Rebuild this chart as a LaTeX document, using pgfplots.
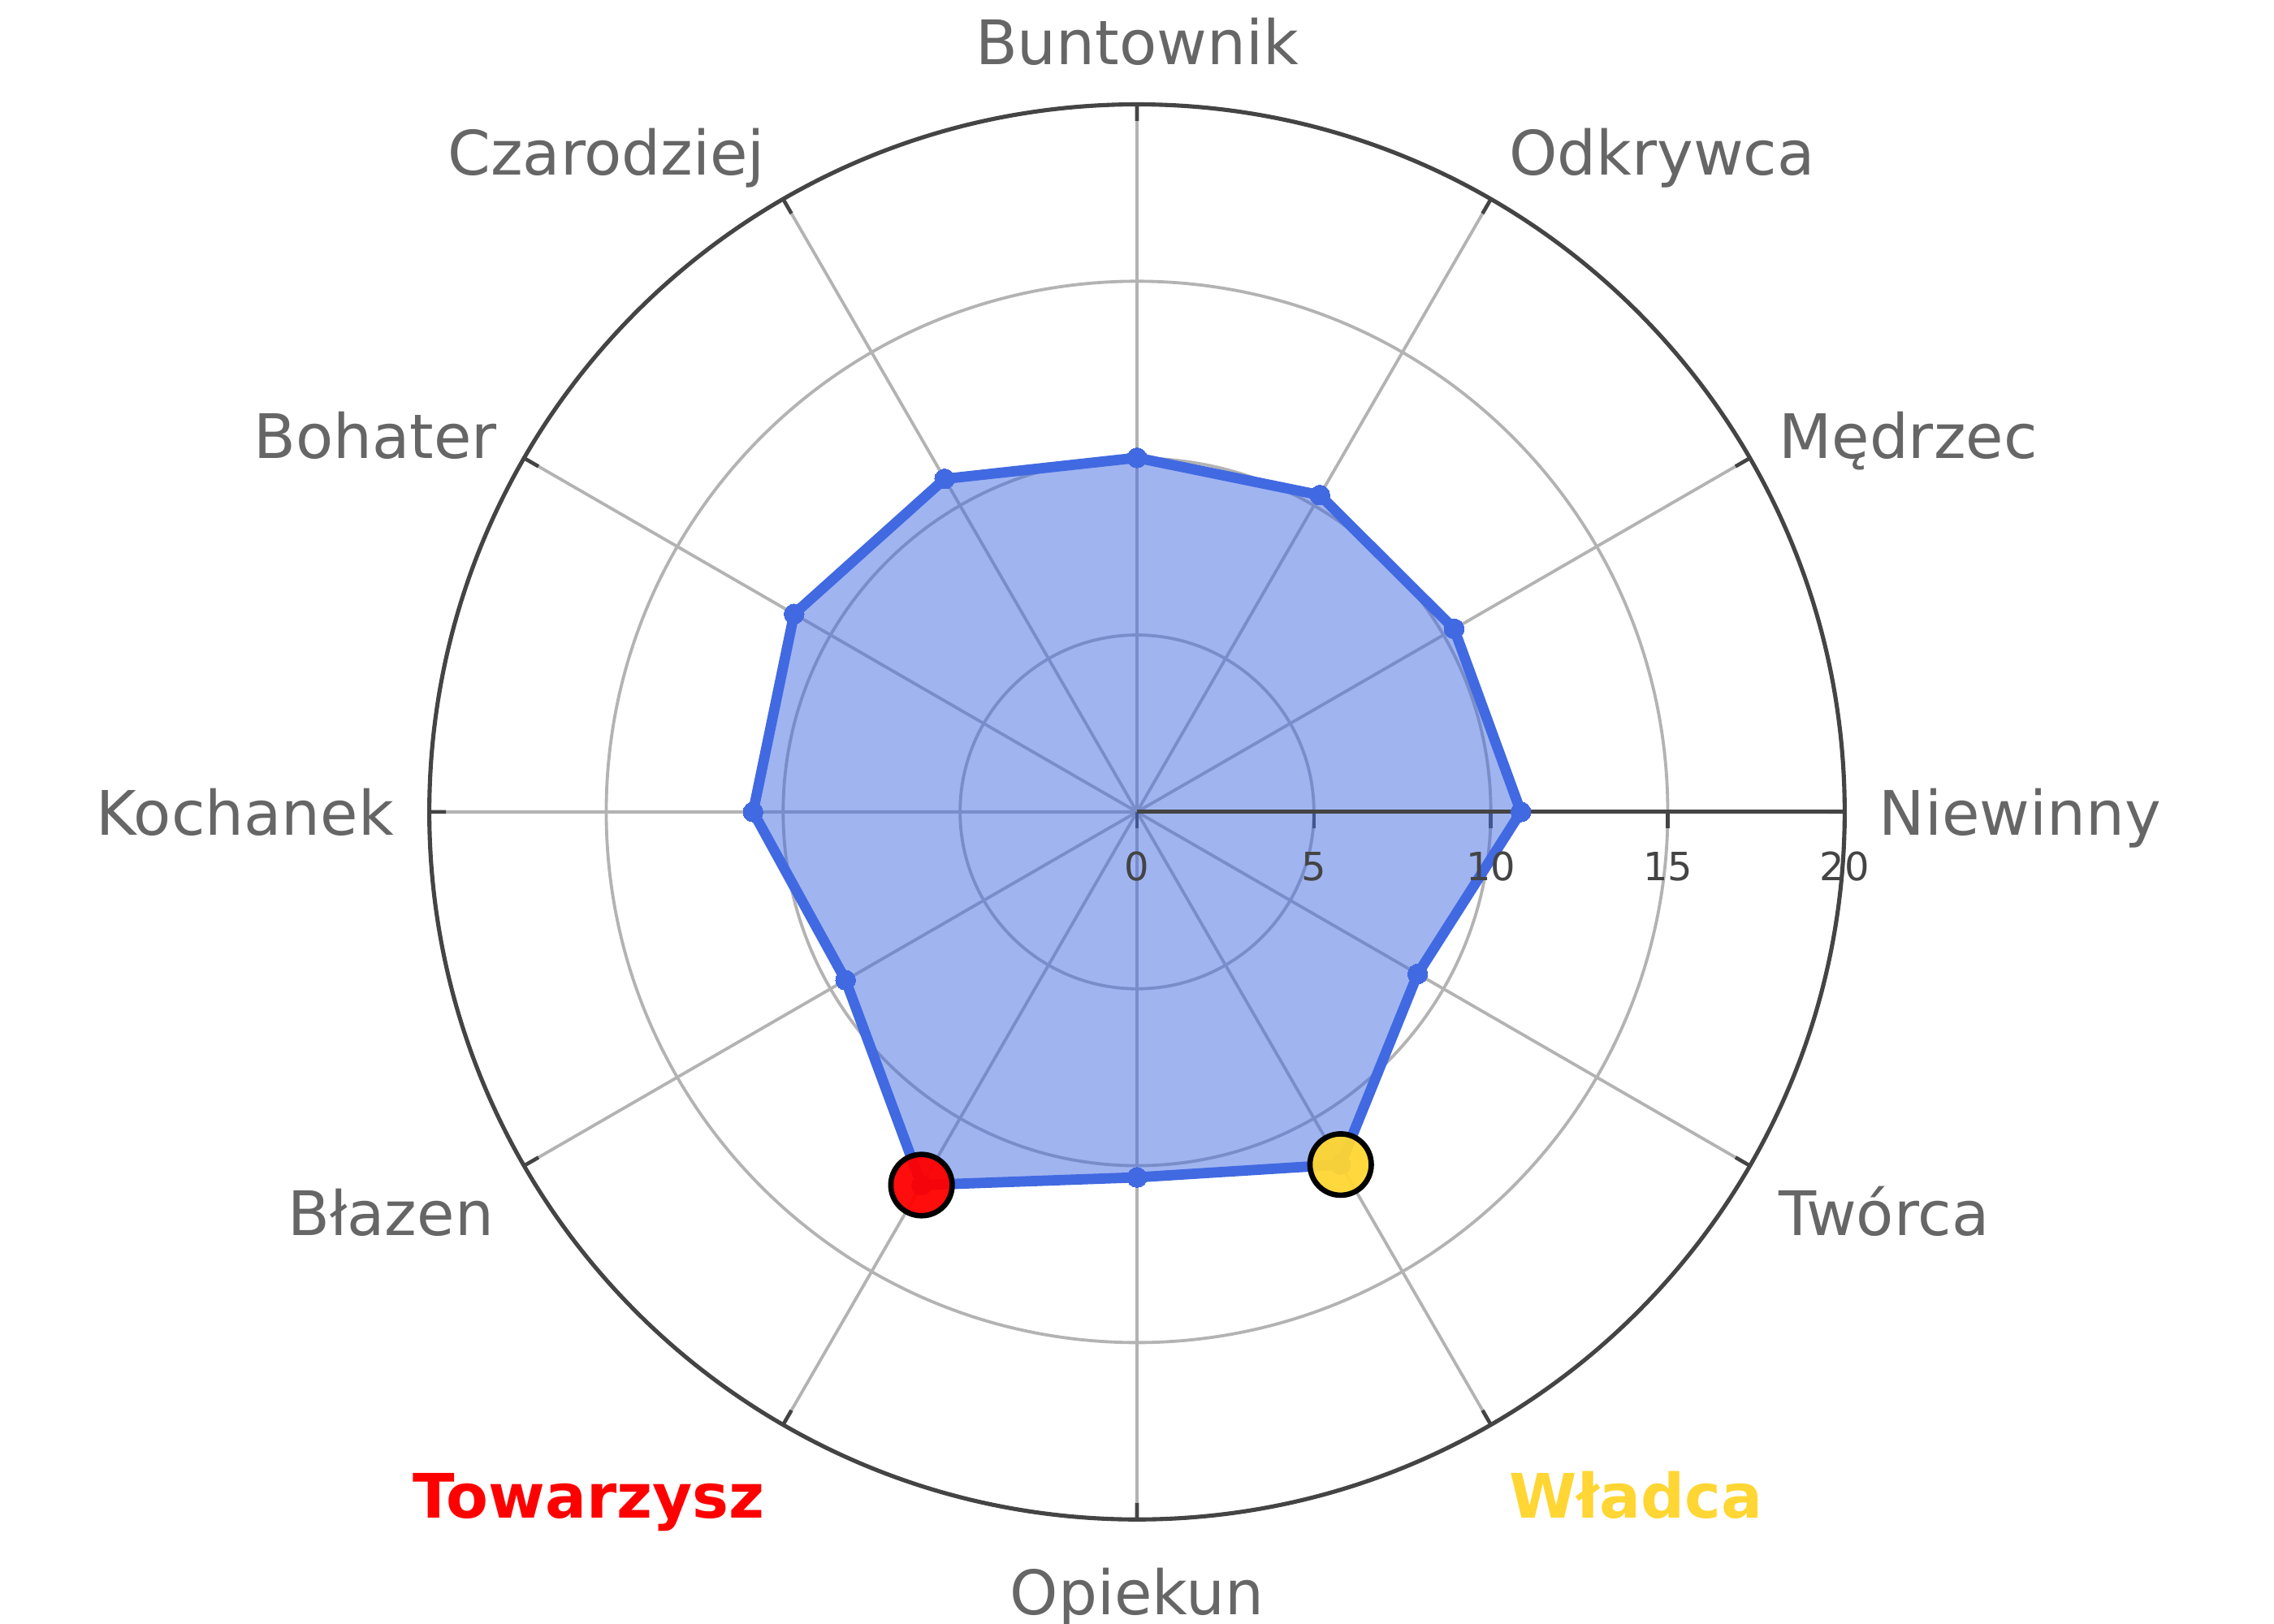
\documentclass[border=0pt]{standalone}
\usepackage{fontspec}
\setmainfont{DejaVu Sans}
\usepackage{pgfplots}
\pgfplotsset{compat=1.18}
\usepgfplotslibrary{polar}
\definecolor{royal}{RGB}{65,105,225}
\definecolor{lab}{RGB}{102,102,102}
\definecolor{tk}{RGB}{68,68,68}
\definecolor{gridc}{RGB}{179,179,179}
\definecolor{goldc}{RGB}{255,214,51}
\begin{document}
\begin{tikzpicture}
\begin{polaraxis}[
  scale only axis, width=12cm, height=12cm,
  ymin=0, ymax=20,
  xtick={0,30,...,330},
  xticklabels={},
  ytick={0,5,10,15,20},
  yticklabels={},
  grid=major,
  major grid style={gridc, line width=0.75pt},
  axis line style={tk, line width=1pt},
  tick style={tk, line width=0.9pt},
  tick align=outside,
  major tick length=4pt,
  clip=false,
]
\addplot[draw=none, fill=royal, fill opacity=0.5, forget plot] coordinates {
(0,10.85) (30,10.35) (60,10.34) (90,10.01) (120,10.87) (150,11.19)
(180,10.85) (210,9.51) (240,12.18) (270,10.33) (300,11.51) (330,9.16) (360,10.85)};
\draw[tk, line width=1pt] (axis cs:0,0) -- (axis cs:0,20);
\addplot[royal, line width=2.5pt, line join=round, mark=*, mark size=2.4pt, mark options={fill=royal, draw=royal, line width=0pt}] coordinates {
(0,10.85) (30,10.35) (60,10.34) (90,10.01) (120,10.87) (150,11.19)
(180,10.85) (210,9.51) (240,12.18) (270,10.33) (300,11.51) (330,9.16) (360,10.85)};
\addplot[only marks, mark=*, mark size=7.4pt, mark options={fill=red, fill opacity=0.95, draw=black, line width=1.3pt}] coordinates {(240,12.18)};
\addplot[only marks, mark=*, mark size=7.4pt, mark options={fill=goldc, fill opacity=0.95, draw=black, line width=1.3pt}] coordinates {(300,11.51)};
\coordinate (c) at (axis cs:0,0);
\end{polaraxis}
\begin{scope}[every node/.style={inner sep=0pt, text=lab, font=\fontsize{14.8}{16}\selectfont}]
\node[anchor=base west] at ([shift={(6.283,-0.2)}]c) {Niewinny};
\node[anchor=base west] at ([shift={(5.435,3.0)}]c) {Mędrzec};
\node[anchor=base west] at ([shift={(3.148,5.398)}]c) {Odkrywca};
\node[anchor=base] at ([shift={(0,6.337)}]c) {Buntownik};
\node[anchor=base east] at ([shift={(-3.148,5.398)}]c) {Czarodziej};
\node[anchor=base east] at ([shift={(-5.422,3.0)}]c) {Bohater};
\node[anchor=base east] at ([shift={(-6.295,-0.2)}]c) {Kochanek};
\node[anchor=base east] at ([shift={(-5.447,-3.59)}]c) {Błazen};
\node[anchor=base east, text=red] at ([shift={(-3.148,-5.985)}]c) {\bfseries Towarzysz};
\node[anchor=base] at ([shift={(0,-6.807)}]c) {Opiekun};
\node[anchor=base west, text=goldc] at ([shift={(3.148,-5.985)}]c) {\bfseries Władca};
\node[anchor=base west] at ([shift={(5.435,-3.59)}]c) {Twórca};
\end{scope}
\begin{scope}[every node/.style={inner sep=0pt, text=tk, font=\fontsize{9.4}{11}\selectfont, anchor=north}]
\node at ([shift={(0,-0.332)}]c) {0};
\node at ([shift={(1.5,-0.332)}]c) {5};
\node at ([shift={(3.0,-0.332)}]c) {10};
\node at ([shift={(4.5,-0.332)}]c) {15};
\node at ([shift={(6.0,-0.332)}]c) {20};
\end{scope}
\pgfresetboundingbox
\path (c) ++(-9.64,-6.885) rectangle ++(19.28,13.77);
\end{tikzpicture}
\end{document}
